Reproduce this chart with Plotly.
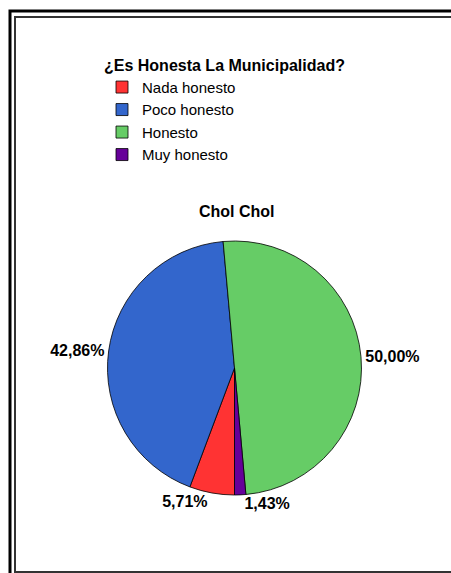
import plotly.graph_objects as go

W, H = 451, 573

# data
categorias = ["Nada honesto", "Poco honesto", "Honesto", "Muy honesto"]
frecuencias = [4, 30, 35, 1]
colores = ["#FF3333", "#3366CC", "#66CC66", "#660099"]
titulo_leyenda = "¿Es Honesta La Municipalidad?"
titulo_grafico = "Chol Chol"

FONT = "Liberation Sans, Arial, sans-serif"

def px_x(x): return x / W
def px_y(y): return 1 - y / H

# pie box in pixels: centre (234.5, 368), radius 127
cx, cy, r = 234.5, 368, 127
dom = dict(x=[px_x(cx - r), px_x(cx + r)], y=[px_y(cy + r), px_y(cy - r)])

fig = go.Figure()
fig.add_trace(go.Pie(
    labels=categorias, values=frecuencias,
    marker=dict(colors=colores, line=dict(color="black", width=0.8)),
    sort=False, direction="clockwise", rotation=180,
    texttemplate="%{percent:.2%}", textposition="outside",
    textfont=dict(family=FONT, size=16, color="black", weight="bold"),
    domain=dom, showlegend=True,
))

# double frame; right and lower parts run off the canvas like the cropped original
shapes = [
    dict(type="rect", x0=px_x(10), x1=1.2, y0=px_y(11), y1=-0.2,
         line=dict(color="black", width=3), fillcolor="rgba(0,0,0,0)"),
    dict(type="rect", x0=px_x(15), x1=1.2, y0=px_y(17), y1=px_y(572),
         line=dict(color="#333", width=2), fillcolor="rgba(0,0,0,0)"),
]

# chart title as a plain annotation
annotations = [
    dict(text="<b>%s</b>" % titulo_grafico, x=px_x(237), y=px_y(211), xref="paper", yref="paper",
         xanchor="center", yanchor="middle", showarrow=False,
         font=dict(family=FONT, size=16, color="black")),
]

fig.update_layout(
    width=W, height=H,
    margin=dict(l=0, r=0, t=0, b=0),
    paper_bgcolor="white", plot_bgcolor="white",
    separators=",.",
    legend=dict(
        title=dict(text=titulo_leyenda, font=dict(family=FONT, size=16, weight="bold", color="black")),
        font=dict(family=FONT, size=15, color="black"),
        x=px_x(102), y=px_y(50), xanchor="left", yanchor="top",
        bgcolor="rgba(0,0,0,0)", borderwidth=0,
    ),
    shapes=shapes,
    annotations=annotations,
)

fig.write_html("out.html", config={"displayModeBar": False},
               post_script="document.documentElement.style.overflow='hidden';"
                           "document.body.style.margin='0';document.body.style.overflow='hidden';")
